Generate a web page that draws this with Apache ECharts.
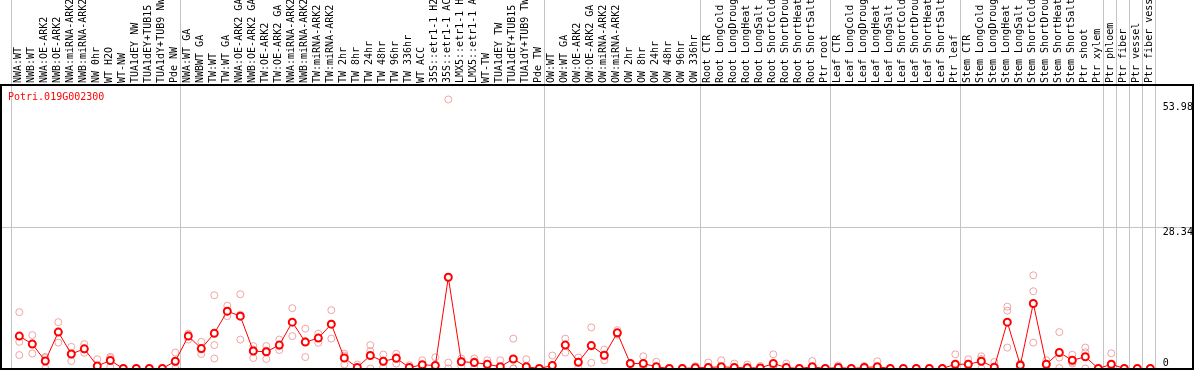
<!DOCTYPE html>
<html><head><meta charset="utf-8">
<script src="https://cdn.jsdelivr.net/npm/echarts@6/dist/echarts.min.js"></script>
<style>html,body{margin:0;padding:0;background:#fff}#c{width:1194px;height:370px}</style>
</head><body><div id="c"></div>
<script>
const geneName = 'Potri.019G002300';

const categories = [
  'NWA:WT','NWB:WT','NWA:OE-ARK2','NWB:OE-ARK2','NWA:miRNA-ARK2','NWB:miRNA-ARK2','NW 0hr','WT H2O','WT-NW','TUA1dEY NW','TUA1dEY+TUB15','TUA1dY+TUB9 NW','Pde NW',
  'NWA:WT GA','NWBWT GA','TW:WT','TW:WT GA','NWA:OE-ARK2 GA','NWB:OE-ARK2 GA','TW:OE-ARK2','TW:OE-ARK2 GA','NWA:miRNA-ARK2 ','NWB:miRNA-ARK2 ','TW:miRNA-ARK2','TW:miRNA-ARK2 ','TW 2hr','TW 8hr','TW 24hr','TW 48hr','TW 96hr','TW 336hr','WT ACC','35S::etr1-1 H2','35S::etr1-1 AC','LMX5::etr1-1 H','LMX5::etr1-1 A','WT-TW','TUA1dEY TW','TUA1dEY+TUB15 ','TUA1dY+TUB9 TW','Pde TW',
  'OW:WT','OW:WT GA','OW:OE-ARK2','OW:OE-ARK2 GA','OW:miRNA-ARK2','OW:miRNA-ARK2 ','OW 2hr','OW 8hr','OW 24hr','OW 48hr','OW 96hr','OW 336hr',
  'Root CTR','Root LongCold','Root LongDroug','Root LongHeat','Root LongSalt','Root ShortCold','Root ShortDrou','Root ShortHeat','Root ShortSalt','Ptr root',
  'Leaf CTR','Leaf LongCold','Leaf LongDroug','Leaf LongHeat','Leaf LongSalt','Leaf ShortCold','Leaf ShortDrou','Leaf ShortHeat','Leaf ShortSalt','Ptr leaf',
  'Stem CTR','Stem LongCold','Stem LongDroug','Stem LongHeat','Stem LongSalt','Stem ShortCold','Stem ShortDrou','Stem ShortHeat','Stem ShortSalt','Ptr shoot','Ptr xylem',
  'Ptr phloem','Ptr fiber','Ptr vessel','Ptr fiber vess'
];

// index of the first category of each group (separator lines)
const groupStarts = [0, 13, 41, 53, 63, 73, 84, 85, 86, 87];

const meanValues = [
  6.5, 4.9, 1.5, 7.3, 2.9, 3.95, 0.5, 1.6, 0, 0, 0, 0, 1.45,
  6.5, 4.0, 7.05, 11.5, 10.5, 3.5, 3.35, 4.7, 9.3, 5.3, 6.1, 8.9, 2.1, 0.2, 2.6, 1.45, 2.05, 0.2, 0.75, 0.6, 18.3, 1.35, 1.2, 0.85, 0.35, 1.9, 0.35, 0,
  0.6, 4.7, 1.25, 4.6, 2.65, 7.15, 1.0, 1.0, 0.35, 0, 0, 0.15,
  0.2, 0.35, 0.2, 0.15, 0.1, 1.0, 0.2, 0, 0.35, 0,
  0.2, 0, 0.2, 0.35, 0, 0, 0, 0, 0, 0.85,
  0.85, 1.45, 0.25, 9.3, 0.65, 13.05, 0.85, 3.2, 1.65, 2.35, 0,
  0.85, 0, 0, 0
];

const rep1 = [
  11.3, 6.7, 2.35, 9.3, 4.35, 4.9, 1.85, 2.35, 0, 0, 0, 0, 3.2,
  7.0, 5.35, 14.7, 12.6, 14.9, 4.5, 4.5, 5.8, 12.1, 8.0, 7.0, 11.7, 3.0, 0.8, 4.7, 2.8, 2.95, 0.65, 1.65, 2.25, 53.98, 2.0, 2.0, 1.65, 1.65, 6.0, 1.85, 0,
  2.6, 6.0, 2.2, 8.25, 3.8, 7.7, 1.1, 2.45, 1.35, 0, 0, 0.45,
  1.2, 1.65, 1.0, 0.8, 0.5, 2.85, 1.0, 0, 1.5, 0,
  0.6, 0, 0.5, 1.45, 0, 0, 0, 0, 0, 2.85,
  1.85, 2.45, 1.3, 12.4, 1.0, 18.7, 1.65, 7.3, 2.75, 4.2, 0,
  3.05, 0, 0, 0
];
const rep2 = [
  5.35, 5.0, 2.1, 7.4, 2.8, 3.8, 0, 2.1, 0, 0, 0, 0, 1.2,
  6.7, 3.8, 4.7, 11.4, 10.8, 3.8, 3.6, 4.5, 9.3, 5.5, 6.1, 9.0, 2.6, 0, 3.5, 1.3, 2.3, 0, 0.3, 0, 1.2, 1.5, 1.45, 0.5, 0, 0, 0, 0,
  0, 4.8, 1.4, 4.4, 2.5, 7.0, 1.0, 0.5, 0, 0, 0, 0,
  0, 0, 0, 0, 0, 0.45, 0, 0, 0, 0,
  0, 0, 0, 0.2, 0, 0, 0, 0, 0, 0,
  0.7, 1.9, 0, 11.6, 0.9, 15.5, 0.9, 2.2, 1.3, 3.25, 0,
  0, 0, 0, 0
];
const rep3 = [
  2.7, 3.0, 0, 5.2, 1.5, 3.15, 0, 0.3, 0, 0, 0, 0, 0,
  5.8, 2.9, 2.0, 10.5, 5.8, 2.1, 1.9, 3.7, 6.5, 2.3, 5.15, 6.0, 0.8, 0, 0, 0.3, 1.0, 0, 0.3, 0, 0, 0.5, 0.1, 0.4, 0, 0, 0, 0,
  0, 3.2, 0.2, 1.15, 1.65, 6.8, 0.9, 0, 0, 0, 0, 0,
  0, 0, 0, 0, 0, 0, 0, 0, 0, 0,
  0, 0, 0, 0, 0, 0, 0, 0, 0, 0,
  0, 0, 0, 4.2, 0, 5.2, 0, 0.1, 1.0, 0, 0,
  0, 0, 0, 0
];

const maxValue = 53.98;
const midTickLabel = 28.34;

const yMax = maxValue * 1.05;
const groupSet = new Set(groupStarts);
const FONT = 'DejaVu Sans Mono';
const GRAY = '#c4c4c4';
const RED = '#ff0000';
const PINK = '#ec8e8e';

const chart = echarts.init(document.getElementById('c'), null, {renderer: 'canvas'});

const repSeries = [rep1, rep2, rep3].map(function (r) {
  return {
    type: 'scatter', xAxisIndex: 2, yAxisIndex: 2, data: r,
    symbol: 'circle', symbolSize: 7, silent: true, z: 2, clip: false,
    itemStyle: {color: 'rgba(0,0,0,0)', borderColor: PINK, borderWidth: 1}
  };
});

function labelAxis(values, vAlign, pad) {
  return {gridIndex: 2, type: 'value', min: 0, max: yMax, position: 'right',
    axisLine: {show: false}, axisTick: {show: false}, splitLine: {show: false},
    axisLabel: {customValues: values, verticalAlign: vAlign, align: 'left', margin: 6, padding: pad,
      fontFamily: FONT, fontSize: 10, color: '#000', formatter: function (v) { return String(v); }}};
}

chart.setOption({
  animation: false,
  backgroundColor: '#fff',
  title: {
    text: geneName, left: 8, top: 92, padding: 0,
    textStyle: {color: RED, fontSize: 10, fontWeight: 'normal', fontFamily: FONT}
  },
  grid: [
    {left: 1, right: 1, top: 85, bottom: 1, show: true, borderColor: '#000', borderWidth: 2, backgroundColor: 'rgba(0,0,0,0)', z: 5, outerBoundsMode: 'none', containLabel: false},
    {left: 11, width: 1144, top: 0, bottom: 1.5, outerBoundsMode: 'none', containLabel: false},
    {left: 12.8, width: 1144, top: 86, bottom: 1.5, outerBoundsMode: 'none', containLabel: false},
    {left: 12, width: 1144, top: 85, bottom: 1.5, outerBoundsMode: 'none', containLabel: false}
  ],
  xAxis: [
    {gridIndex: 0, type: 'value', show: false},
    {gridIndex: 1, type: 'category', data: categories, boundaryGap: true,
     axisLine: {show: false}, axisTick: {show: false}, axisLabel: {show: false},
     splitLine: {show: true, interval: function (i) { return groupSet.has(i); }, lineStyle: {color: GRAY, width: 1}}},
    {gridIndex: 2, type: 'category', data: categories, boundaryGap: true, show: false},
    {gridIndex: 3, type: 'category', data: categories, boundaryGap: true, position: 'top',
     axisLine: {show: false}, axisTick: {show: false}, splitLine: {show: false},
     axisLabel: {interval: 0, rotate: 90, margin: 2, fontFamily: FONT, fontSize: 10, color: '#000', hideOverlap: false}}
  ],
  yAxis: [
    {gridIndex: 0, type: 'value', min: 0, max: yMax, interval: yMax / 2,
     axisLine: {show: false}, axisTick: {show: false}, axisLabel: {show: false},
     splitLine: {show: true, showMinLine: false, showMaxLine: false, lineStyle: {color: GRAY, width: 1}}},
    {gridIndex: 1, type: 'value', show: false},
    labelAxis([midTickLabel], 'top', 0),
    labelAxis([0], 'bottom', 0),
    labelAxis([maxValue], 'top', [3, 0, 0, 0]),
    {gridIndex: 3, type: 'value', show: false}
  ],
  series: repSeries.concat([{
    type: 'line', xAxisIndex: 2, yAxisIndex: 2, data: meanValues,
    symbol: 'emptyCircle', symbolSize: 7, silent: true, z: 3, clip: false,
    lineStyle: {color: RED, width: 1},
    itemStyle: {color: RED, borderColor: RED, borderWidth: 1.5}
  }])
});
</script>
</body></html>
